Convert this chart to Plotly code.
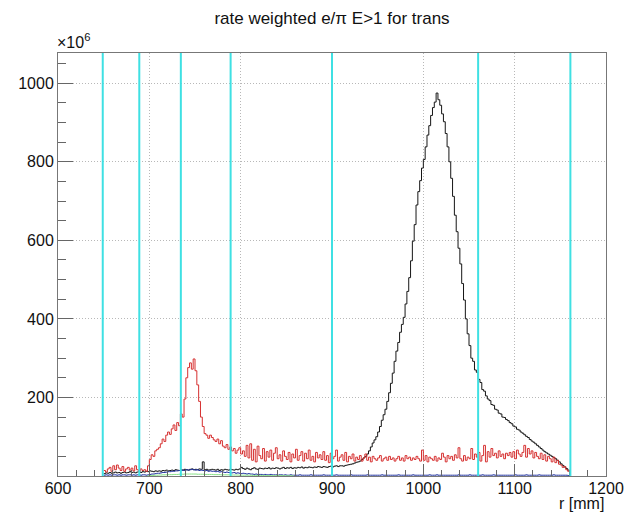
import numpy as np
import plotly.graph_objects as go

# Histogram binning (mm): 2 mm bins from 650 to 1160
BIN_LO = 650.0
BIN_W = 2.0

# Black: total rate
black_vals = [
    6, 8, 7, 9, 7, 8, 10, 8, 9, 7,
    9, 10, 8, 9, 11, 9, 10, 8, 10, 11,
    9, 11, 10, 12, 11, 13, 12, 11, 13, 12,
    13, 12, 14, 13, 15, 13, 14, 15, 14, 16,
    15, 14, 16, 15, 17, 16, 15, 17, 18, 16,
    17, 16, 18, 17, 36, 16, 17, 15, 16, 17,
    16, 15, 17, 14, 16, 15, 17, 16, 15, 17,
    16, 15, 17, 16, 18, 22, 19, 17, 20, 18,
    16, 19, 21, 18, 17, 20, 19, 18, 20, 19,
    21, 18, 20, 19, 21, 20, 18, 20, 22, 19,
    21, 20, 22, 19, 21, 20, 22, 21, 23, 20,
    22, 21, 23, 22, 21, 23, 22, 24, 23, 22,
    24, 23, 22, 24, 25, 23, 25, 26, 24, 26,
    26, 25, 27, 28, 29, 30, 31, 33, 35, 36,
    38, 42, 46, 50, 56, 64, 74, 84, 92, 100,
    112, 126, 142, 156, 170, 190, 212, 236, 262, 292,
    318, 340, 366, 386, 404, 438, 470, 505, 548, 598,
    640, 690, 724, 752, 784, 806, 838, 868, 892, 918,
    938, 952, 975, 958, 944, 922, 902, 872, 838, 800,
    758, 712, 664, 622, 580, 540, 490, 448, 400, 362,
    332, 300, 292, 270, 264, 246, 238, 220, 216, 204,
    196, 192, 182, 180, 170, 168, 160, 158, 150, 149,
    144, 141, 136, 133, 127, 125, 119, 117, 112, 109,
    105, 101, 98, 93, 89, 86, 82, 78, 74, 70,
    66, 62, 59, 56, 53, 50, 47, 44, 40, 36,
    31, 27, 23, 19, 15,
]

# Red: e/pi weighted rate
red_vals = [
    14, 10, 18, 22, 12, 26, 16, 28, 20, 14,
    24, 12, 18, 22, 15, 20, 13, 26, 16, 12,
    18, 14, 16, 12, 26, 42, 54, 50, 64, 68,
    72, 82, 94, 88, 104, 112, 106, 120, 130, 116,
    136, 128, 158, 150, 196, 250, 276, 288, 272, 298,
    268, 232, 190, 150, 126, 108, 104, 96, 104, 98,
    92, 88, 94, 82, 90, 76, 72, 80, 68, 74,
    64, 70, 58, 66, 72, 56, 64, 50, 78, 46,
    82, 40, 68, 36, 76, 52, 44, 70, 38, 62,
    48, 66, 40, 58, 72, 44, 54, 38, 64, 50,
    42, 60, 36, 56, 46, 68, 40, 52, 62, 38,
    58, 44, 66, 40, 50, 36, 60, 46, 54, 42,
    62, 40, 52, 34, 58, 44, 50, 66, 38, 48,
    54, 40, 60, 36, 50, 44, 56, 38, 48, 42,
    52, 38, 46, 56, 40, 48, 36, 50, 44, 40,
    46, 52, 38, 44, 48, 40, 50, 42, 46, 38,
    44, 50, 40, 46, 38, 52, 44, 48, 40, 46,
    42, 50, 44, 38, 66, 40, 52, 36, 48, 44,
    40, 50, 38, 46, 42, 58, 48, 36, 52, 44,
    50, 40, 54, 46, 72, 44, 38, 52, 40, 48,
    44, 70, 42, 56, 48, 60, 38, 52, 78, 36,
    62, 48, 70, 52, 58, 46, 64, 50, 56, 44,
    58, 52, 60, 48, 62, 44, 66, 56, 50, 60,
    78, 48, 70, 56, 64, 46, 60, 50, 44, 58,
    42, 54, 38, 50, 44, 36, 48, 34, 40, 30,
    28, 22, 24, 16, 12,
]

# Blue component
blue_vals = [
    2, 3, 2, 3, 2, 3, 3, 2, 3, 2,
    3, 3, 2, 3, 3, 2, 3, 2, 3, 3,
    2, 3, 3, 2, 3, 4, 5, 5, 6, 7,
    7, 8, 9, 9, 10, 11, 11, 12, 12, 13,
    13, 14, 14, 15, 14, 16, 15, 16, 17, 16,
    15, 16, 14, 15, 14, 13, 14, 12, 13, 12,
    12, 11, 12, 10, 11, 10, 9, 10, 9, 8,
    8, 9, 7, 8, 7, 6, 7, 6, 5, 6,
    5, 5, 4, 5, 4, 4, 4, 3, 4, 3,
    3, 4, 3, 3, 3, 2, 3, 3, 2, 3,
    2, 2, 3, 2, 2, 2, 2, 3, 2, 2,
    2, 2, 2, 3, 2, 2, 2, 2, 2, 2,
    3, 2, 2, 2, 2, 2, 2, 3, 2, 2,
    2, 2, 2, 2, 2, 3, 2, 2, 2, 2,
    2, 2, 2, 2, 3, 2, 2, 2, 2, 2,
    2, 2, 3, 2, 2, 2, 2, 2, 2, 2,
    2, 3, 2, 2, 2, 2, 2, 2, 2, 3,
    2, 2, 2, 2, 2, 2, 2, 2, 3, 2,
    2, 2, 3, 2, 2, 2, 2, 2, 2, 2,
    2, 2, 2, 2, 3, 2, 2, 2, 2, 2,
    3, 2, 2, 2, 2, 2, 2, 3, 2, 2,
    2, 2, 2, 3, 2, 2, 2, 2, 2, 2,
    2, 2, 2, 2, 2, 3, 2, 2, 2, 2,
    2, 3, 2, 2, 2, 2, 2, 2, 3, 2,
    2, 2, 2, 2, 2, 2, 3, 2, 2, 2,
    2, 2, 2, 2, 1,
]

# Green component (starts at 698 mm)
GREEN_LO = 698.0
green_vals = [
    1, 1, 1.5, 1.5, 2, 2, 2.5, 2.5, 3, 3,
    3, 3.5, 3.5, 3.5, 4, 4, 4, 4.5, 4.5, 4.5,
    5, 5, 5, 5, 5, 5, 5, 4.5, 4.5, 4.5,
    4.5, 4, 4, 4, 4, 4, 3.5, 3.5, 3.5, 3.5,
    3, 3, 3, 3, 3, 2.5, 2.5, 2.5, 2.5, 2.5,
    2, 2, 2, 2, 2, 2, 2, 1.5, 1.5, 1.5,
    1.5, 1.5, 1.5, 1.5, 1, 1, 1, 1, 1, 1,
    1, 1, 1, 1, 1, 0.5, 0.5, 0.5, 0.5, 0.5,
]

# Detector boundaries (mm)
boundaries = [649, 689, 734.5, 789, 900, 1060, 1161]

x_ticks = [600, 700, 800, 900, 1000, 1100, 1200]
y_ticks = [200, 400, 600, 800, 1000]
Y_MAX = 1077


def step_trace(lo, vals, color):
    vals = np.asarray(vals, dtype=float)
    edges = lo + BIN_W * np.arange(len(vals) + 1)
    y = np.append(vals, vals[-1])
    return go.Scatter(x=edges, y=y, mode="lines", line=dict(color=color, width=1, shape="hv"),
                      hoverinfo="skip", showlegend=False)


fig = go.Figure()
fig.add_trace(step_trace(BIN_LO, black_vals, "#151515"))
fig.add_trace(step_trace(BIN_LO, red_vals, "#d63030"))
fig.add_trace(step_trace(BIN_LO, blue_vals, "#2335a0"))
fig.add_trace(step_trace(GREEN_LO, green_vals, "#86e086"))

for b in boundaries:
    fig.add_shape(type="line", x0=b, x1=b, y0=0, y1=1, xref="x", yref="paper",
                  line=dict(color="#3fe0e3", width=2), layer="above")

axis_font = dict(family="Liberation Sans, Arial, sans-serif", size=16, color="#111111")

fig.update_layout(
    width=636, height=515,
    margin=dict(l=58, r=24, t=53, b=39),
    paper_bgcolor="white", plot_bgcolor="white",
    title=dict(text="rate weighted e/\u03c0 E>1 for trans", x=0.5, xref="paper",
               y=1 - 18 / 515, yref="container", xanchor="center", yanchor="middle",
               font=dict(family="Liberation Sans, Arial, sans-serif", size=17, color="#111111")),
    xaxis=dict(range=[600, 1200], tickmode="array", tickvals=x_ticks,
               ticks="inside", ticklen=12, tickcolor="#666666", tickwidth=1,
               ticklabelstandoff=-2,
               showline=True, linecolor="#777777", linewidth=1, mirror=True,
               showgrid=True, gridcolor="#b8b8b8", griddash="1px,2px", gridwidth=1,
               zeroline=False, tickfont=axis_font,
               minor=dict(dtick=20, tick0=600, ticks="inside", ticklen=6,
                          tickcolor="#666666", showgrid=False)),
    yaxis=dict(range=[0, Y_MAX], tickmode="array", tickvals=y_ticks,
               ticks="inside", ticklen=15, tickcolor="#666666", tickwidth=1,
               showline=True, linecolor="#777777", linewidth=1, mirror=True,
               showgrid=True, gridcolor="#b8b8b8", griddash="1px,2px", gridwidth=1,
               zeroline=False, tickfont=axis_font,
               minor=dict(dtick=50, tick0=0, ticks="inside", ticklen=8,
                          tickcolor="#666666", showgrid=False)),
    annotations=[
        dict(text="\u00d710<sup>6</sup>", xref="paper", yref="paper", x=-0.006, y=1.0,
             xanchor="left", yanchor="bottom", showarrow=False,
             font=dict(family="Liberation Sans, Arial, sans-serif", size=16, color="#111111")),
        dict(text="r [mm]", xref="paper", yref="paper", x=1.0, y=-0.091,
             xanchor="right", yanchor="bottom", showarrow=False,
             font=dict(family="Liberation Sans, Arial, sans-serif", size=16, color="#111111")),
    ],
)

fig.write_html("out.html")
